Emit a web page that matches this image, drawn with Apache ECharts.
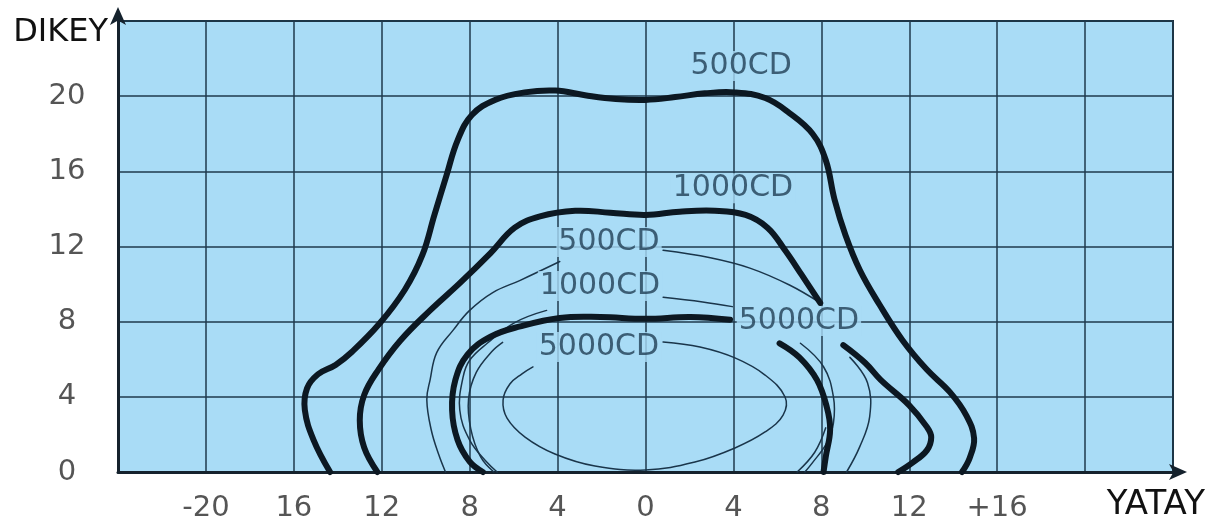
<!DOCTYPE html>
<html>
<head>
<meta charset="utf-8">
<script src="https://cdn.jsdelivr.net/npm/echarts@6/dist/echarts.min.js"></script>
<style>
html, body { margin: 0; padding: 0; background: #fff; }
#chart { width: 1221px; height: 525px; }
</style>
</head>
<body>
<div id="chart"></div>
<script>
// tick labels (the picture shows the left side without minus signs)
var xTickValues = [-20, -16, -12, -8, -4, 0, 4, 8, 12, 16];
var xTickLabels = ['-20', '16', '12', '8', '4', '0', '4', '8', '12', '+16'];
var yTickValues = [0, 4, 8, 12, 16, 20];
var yTickLabels = ['0', '4', '8', '12', '16', '20'];

// thick contours [yatay, dikey]
var thick500 = [[-14.35,0],[-15.1,1.7],[-15.5,3.3],[-15.4,4.45],[-14.9,5.2],[-14.1,5.7],[-13.35,6.4],[-12.1,7.9],[-10.95,9.7],[-10.15,11.55],[-9.6,13.7],[-9.05,15.8],[-8.55,17.65],[-7.9,19.0],[-6.85,19.8],[-5.5,20.2],[-4.1,20.3],[-2.75,20.05],[-1.35,19.85],[0,19.8],[1.35,19.95],[2.7,20.15],[4.05,20.2],[5.45,19.9],[6.55,19.1],[7.6,18.0],[8.2,16.6],[8.6,14.5],[9.1,12.6],[9.75,10.75],[10.65,8.9],[11.7,7.0],[12.8,5.45],[13.85,4.25],[14.6,3.0],[14.95,1.8],[14.75,0.75],[14.4,0]];
var thick1000Top = [[-12.2,0],[-12.8,1.3],[-13.0,2.75],[-12.8,4.1],[-12.15,5.45],[-11.15,7.0],[-9.8,8.6],[-8.45,10.05],[-7.05,11.65],[-5.95,13.0],[-4.8,13.6],[-3.2,13.9],[-1.6,13.8],[0,13.68],[1.55,13.85],[3.15,13.9],[4.55,13.68],[5.55,13.0],[6.35,11.8],[7.1,10.5],[7.95,9.0]];
var thick1000Right = [[9.0,6.75],[10.0,5.8],[10.7,4.9],[12.0,3.55],[12.8,2.4],[13.0,1.85],[12.8,1.15],[12.15,0.5],[11.5,0]];
var thick5000Left = [[-7.4,0],[-8.0,0.55],[-8.55,1.7],[-8.8,3.3],[-8.65,4.9],[-8.1,6.25],[-7.05,7.2],[-5.7,7.75],[-3.9,8.2],[-2.05,8.25],[0,8.15],[2.05,8.25],[3.85,8.1]];
var thick5000Right = [[6.1,6.85],[7.0,6.1],[7.8,4.9],[8.25,3.45],[8.4,2.25],[8.2,0.8],[8.1,0]];

// thin contours
var thin500Left = [[-9.1,0],[-9.4,0.9],[-9.75,2.25],[-9.95,3.85],[-9.8,4.9],[-9.5,6.35],[-8.75,7.55],[-8.0,8.6],[-6.95,9.55],[-5.7,10.2],[-3.9,11.2]];
var thin500Lead = [[0.8,11.8],[2.95,11.4],[4.75,10.85],[6.55,9.95],[7.95,9.0]];
var thin500Right = [[9.3,6.1],[10.1,4.75],[10.2,2.95],[9.75,1.35],[9.15,0]];
var thin1000Left = [[-6.75,0],[-7.2,0.5],[-8.0,1.7],[-8.45,3.3],[-8.3,5.05],[-8.0,5.95],[-7.2,6.85],[-5.95,7.95],[-4.5,8.6]];
var thin1000Lead = [[0.8,9.3],[2.6,9.05],[3.95,8.8]];
var thin1000Right = [[7.05,6.85],[8.1,5.6],[8.55,4.0],[8.55,2.6],[8.25,1.55],[7.6,0.5],[7.25,0]];
var thin5000 = [[0.8,6.92],[2.48,6.65],[4.07,6.07],[5.44,5.16],[6.35,3.99],[6.26,3.03],[5.44,2.13],[4.07,1.28],[2.25,0.53],[0,0.11],[-2.3,0.32],[-4.12,0.96],[-5.48,1.86],[-6.3,2.87],[-6.48,3.83],[-6.17,4.68],[-5.62,5.22],[-5.12,5.59]];
var thinInnerLeft = [[-6.9,0],[-7.5,0.8],[-7.95,2.3],[-8.05,3.9],[-7.7,5.3],[-7.0,6.4],[-6.5,6.9]];
var thinInnerRight = [[6.9,0],[7.7,1.05],[8.2,2.35]];

// curve labels
var labelNames = ['500CD', '1000CD', '500CD', '1000CD', '5000CD', '5000CD'];
var labelPos = [[4.35,21.6],[3.98,15.1],[-1.66,12.24],[-2.07,9.9],[6.98,8.04],[-2.12,6.65]];

var plotBg = '#a9dcf6';
var thickColor = '#0c1822';
var thinColor = '#1a354a';

// smooth curve through the read points, drawn with the axis scales
function curveSeries(data, width, color) {
    return {
        type: 'custom',
        silent: true,
        z: width > 3 ? 4 : 3,
        data: data,
        renderItem: function (params, api) {
            if (params.dataIndex !== 0) return null;
            var pts = data.map(function (p) { return api.coord(p); });
            return {
                type: 'polyline',
                shape: { points: pts, smooth: 0.4 },
                style: {
                    stroke: color, lineWidth: width, fill: null,
                    lineJoin: 'round', lineCap: 'round'
                }
            };
        }
    };
}

function tickFormatter(values, labels) {
    return function (v) {
        var i = values.indexOf(v);
        return i >= 0 ? labels[i] : '';
    };
}

var series = [
    curveSeries(thick500, 6, thickColor),
    curveSeries(thick1000Top, 6, thickColor),
    curveSeries(thick1000Right, 6, thickColor),
    curveSeries(thick5000Left, 6, thickColor),
    curveSeries(thick5000Right, 6, thickColor),
    curveSeries(thin500Left, 1.5, thinColor),
    curveSeries(thin500Lead, 1.5, thinColor),
    curveSeries(thin500Right, 1.5, thinColor),
    curveSeries(thin1000Left, 1.5, thinColor),
    curveSeries(thin1000Lead, 1.5, thinColor),
    curveSeries(thin1000Right, 1.5, thinColor),
    curveSeries(thin5000, 1.5, thinColor),
    curveSeries(thinInnerLeft, 1.5, thinColor),
    curveSeries(thinInnerRight, 1.5, thinColor),
    {
        type: 'scatter',
        symbolSize: 1,
        silent: true,
        itemStyle: { color: 'transparent' },
        z: 10,
        data: labelNames.map(function (n, i) { return { name: n, value: labelPos[i] }; }),
        label: {
            show: true,
            position: 'inside',
            formatter: '{b}',
            fontFamily: 'DejaVu Sans',
            fontSize: 30,
            color: '#203f55',
            backgroundColor: plotBg,
            padding: [0, 2]
        }
    }
];

var chart = echarts.init(document.getElementById('chart'));
chart.setOption({
    animation: false,
    backgroundColor: '#fff',
    grid: {
        left: 118, right: 48, top: 21, bottom: 53,
        containLabel: false,
        outerBoundsMode: 'none',
        show: true,
        backgroundColor: plotBg,
        borderColor: '#1b2c3a',
        borderWidth: 2
    },
    xAxis: {
        type: 'value',
        min: -24, max: 24, interval: 4,
        name: 'YATAY',
        nameLocation: 'end',
        nameGap: 32,
        nameTextStyle: {
            fontFamily: 'DejaVu Sans', fontSize: 34, color: '#111',
            align: 'right', verticalAlign: 'top', padding: [16, 0, 0, 0]
        },
        axisLine: {
            show: true, onZero: false,
            lineStyle: { color: '#15222d', width: 3 },
            symbol: ['none', 'arrow'], symbolSize: [12, 18], symbolOffset: [0, 14]
        },
        axisTick: { show: false },
        axisLabel: {
            margin: 22,
            fontFamily: 'DejaVu Sans', fontSize: 29, color: '#555',
            formatter: tickFormatter(xTickValues, xTickLabels)
        },
        splitLine: { show: true, lineStyle: { color: '#1f3a4d', width: 1.5 } }
    },
    yAxis: {
        type: 'value',
        min: 0, max: 24, interval: 4,
        name: 'DIKEY',
        nameLocation: 'end',
        nameGap: -12,
        nameTextStyle: {
            fontFamily: 'DejaVu Sans', fontSize: 32, color: '#111',
            align: 'right', verticalAlign: 'middle', padding: [0, 10, 0, 0]
        },
        axisLine: {
            show: true, onZero: false,
            lineStyle: { color: '#15222d', width: 3 },
            symbol: ['none', 'arrow'], symbolSize: [12, 18], symbolOffset: [0, 14]
        },
        axisTick: { show: false },
        axisLabel: {
            margin: 51, align: 'center',
            fontFamily: 'DejaVu Sans', fontSize: 29, color: '#555',
            formatter: tickFormatter(yTickValues, yTickLabels)
        },
        splitLine: { show: true, lineStyle: { color: '#1f3a4d', width: 1.5 } }
    },
    series: series
});
</script>
</body>
</html>
